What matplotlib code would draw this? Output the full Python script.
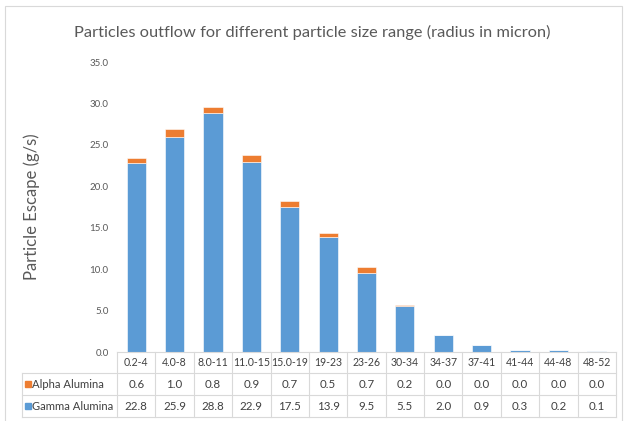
import numpy as np
import matplotlib.pyplot as plt
from matplotlib.transforms import blended_transform_factory
from matplotlib.patches import Rectangle

plt.rcParams["font.family"] = ["Lato", "DejaVu Sans"]

size_ranges = ["0.2-4", "4.0-8", "8.0-11", "11.0-15", "15.0-19", "19-23", "23-26",
               "30-34", "34-37", "37-41", "41-44", "44-48", "48-52"]
gamma_alumina = [22.8, 25.9, 28.8, 22.9, 17.5, 13.9, 9.5, 5.5, 2.0, 0.9, 0.3, 0.2, 0.1]
alpha_alumina = [0.6, 1.0, 0.8, 0.9, 0.7, 0.5, 0.7, 0.2, 0.0, 0.0, 0.0, 0.0, 0.0]
series_names = ["Alpha Alumina", "Gamma Alumina"]
y_ticks = [0, 5, 10, 15, 20, 25, 30, 35]

blue = "#5B9BD5"
orange = "#ED7D31"
text_grey = "#595959"
line_grey = "#D9D9D9"

W, H = 624, 421
fig = plt.figure(figsize=(W / 100, H / 100), dpi=100)
ax = fig.add_axes([117 / W, 1 - 352 / H, 499 / W, 290 / H])

x = np.arange(len(size_ranges))
ax.bar(x, gamma_alumina, width=0.5, color=blue, edgecolor="white", linewidth=0.4)
ax.bar(x, alpha_alumina, width=0.5, bottom=gamma_alumina, color=orange,
       edgecolor="white", linewidth=0.4)

ax.set_xlim(-0.5, len(size_ranges) - 0.5)
ax.set_ylim(0, 35)
ax.set_yticks(y_ticks)
ax.set_yticklabels(["{:.1f}".format(v) for v in y_ticks])
ax.set_xticks([])
ax.tick_params(axis="y", length=0, pad=6, labelsize=7, labelcolor=text_grey)
for s in ax.spines.values():
    s.set_visible(False)

ax.set_ylabel("Particle Escape (g/s)", fontsize=12, color=text_grey)
ax.yaxis.set_label_coords(-0.155, 0.5)

fig.text(0.5, 1 - 32 / H,
         "Particles outflow for different particle size range (radius in micron)",
         ha="center", va="center", fontsize=11.8, color=text_grey)

# data table below the axes
tr = blended_transform_factory(ax.transData, ax.transAxes)
px = 1 / 290
row_tops = [0, -21 * px, -43 * px, -65 * px]
x_left = -0.5 - 95 / 38.38
x_right = len(size_ranges) - 0.5

line_kw = dict(color=line_grey, lw=0.8, transform=tr, clip_on=False)
ax.plot([-0.5, x_right], [0, 0], **line_kw)
for yv in row_tops[1:]:
    ax.plot([x_left, x_right], [yv, yv], **line_kw)
for i in range(len(size_ranges) + 1):
    ax.plot([i - 0.5, i - 0.5], [0, row_tops[-1]], **line_kw)
ax.plot([x_left, x_left], [row_tops[1], row_tops[-1]], **line_kw)

cell_kw = dict(transform=tr, ha="center", va="center", color="#404040", clip_on=False)
for i, lab in enumerate(size_ranges):
    ax.text(i, (row_tops[0] + row_tops[1]) / 2, lab, fontsize=7.6, **cell_kw)
    ax.text(i, (row_tops[1] + row_tops[2]) / 2, "{:.1f}".format(alpha_alumina[i]),
            fontsize=8.3, **cell_kw)
    ax.text(i, (row_tops[2] + row_tops[3]) / 2, "{:.1f}".format(gamma_alumina[i]),
            fontsize=8.3, **cell_kw)

for k, (name, col) in enumerate(zip(series_names, [orange, blue])):
    yc = (row_tops[k + 1] + row_tops[k + 2]) / 2
    ax.plot([x_left + 0.15], [yc], "s", ms=4.5, color=col, transform=tr, clip_on=False)
    ax.text(x_left + 0.27, yc, name, transform=tr, ha="left", va="center",
            fontsize=8.1, color="#404040", clip_on=False)

fig.add_artist(Rectangle((5 / W, -0.01), 617 / W, 1.01 - 6 / H, transform=fig.transFigure,
                         fill=False, edgecolor=line_grey, lw=0.8))

fig.savefig("out.png", dpi=100)
